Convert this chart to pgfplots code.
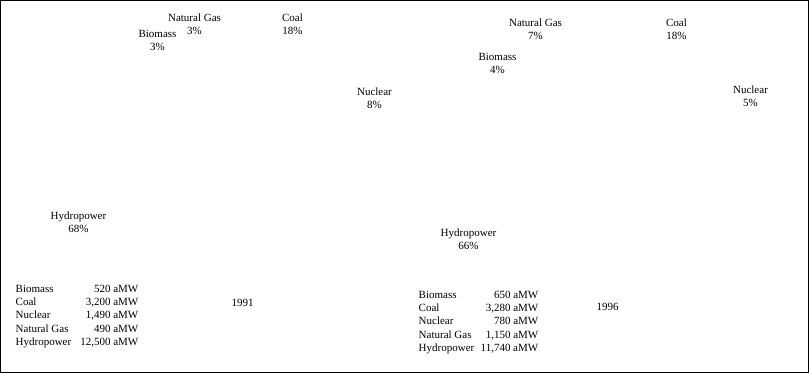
\documentclass[border=0pt]{standalone}
\usepackage{fontspec}
\setmainfont{Liberation Serif}
\usepackage{pgfplots}
\usepackage{pgfplotstable}
\pgfplotsset{compat=1.18}

\pgfplotstableread{
x y name pct
194 21 {Natural Gas} 3
157 37 Biomass 3
292 21 Coal 18
374 95 Nuclear 8
78 219 Hydropower 68
535 26 {Natural Gas} 7
497 60 Biomass 4
676 26 Coal 18
750 93 Nuclear 5
468 236 Hydropower 66
}\pielabels

\pgfplotstableread{
xn xv y name amw
15 138 292 Biomass 520
15 138 305.2 Coal 3200
15 138 318.4 Nuclear 1490
15 138 331.6 {Natural Gas} 490
15 138 344.8 Hydropower 12500
418 538 298 Biomass 650
418 538 311.2 Coal 3280
418 538 324.4 Nuclear 780
418 538 337.6 {Natural Gas} 1150
418 538 350.8 Hydropower 11740
}\amwtable

\pgfplotstableread{
x y year
242 306 1991
607 310 1996
}\years

\begin{document}
\begin{tikzpicture}[font=\fontsize{11}{13}\selectfont]
\begin{axis}[
  width=808pt, height=372pt, scale only axis,
  xmin=0, xmax=808, ymin=0, ymax=372, y dir=reverse,
  xtick=\empty, ytick=\empty,
  axis line style={black, line width=1pt},
  clip=false,
  /pgf/number format/assume math mode=true,
]
% pie labels: names
\addplot[only marks, mark=none, point meta=explicit symbolic,
  nodes near coords={\pgfplotspointmeta},
  every node near coord/.style={anchor=base, inner sep=0pt, black}]
  table[x=x, y=y, meta=name] {\pielabels};
% pie labels: percentages
\addplot[only marks, mark=none, point meta=explicit,
  nodes near coords={\pgfmathprintnumber{\pgfplotspointmeta}\%},
  every node near coord/.style={anchor=base, inner sep=0pt, black}]
  table[x=x, y expr=\thisrow{y}+13, meta=pct] {\pielabels};
% table names
\addplot[only marks, mark=none, point meta=explicit symbolic,
  nodes near coords={\pgfplotspointmeta},
  every node near coord/.style={anchor=base west, inner sep=0pt, black}]
  table[x=xn, y=y, meta=name] {\amwtable};
% table values
\addplot[only marks, mark=none, point meta=explicit,
  nodes near coords={\pgfmathprintnumber[1000 sep={,}, fixed, precision=0]{\pgfplotspointmeta}~aMW},
  every node near coord/.style={anchor=base east, inner sep=0pt, black}]
  table[x=xv, y=y, meta=amw] {\amwtable};
% years
\addplot[only marks, mark=none, point meta=explicit symbolic,
  nodes near coords={\pgfplotspointmeta},
  every node near coord/.style={anchor=base, inner sep=0pt, black}]
  table[x=x, y=y, meta=year] {\years};
\end{axis}
\end{tikzpicture}
\end{document}
